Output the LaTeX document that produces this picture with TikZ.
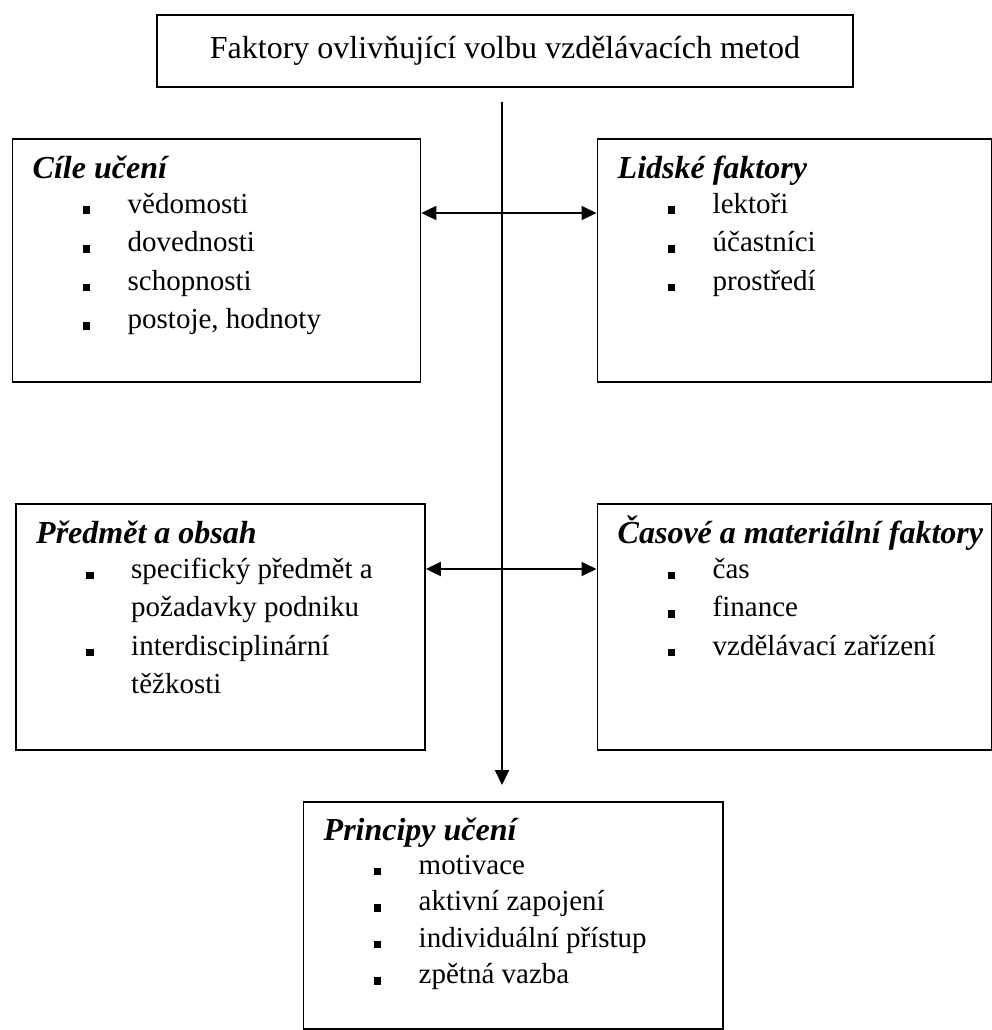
\documentclass[tikz,border=0pt]{standalone}
\usepackage{fontspec}
\setmainfont{Liberation Serif}
\usetikzlibrary{arrows.meta}
\newcommand\bod[1]{\makebox[95pt][l]{\hspace*{50pt}\rule[-1pt]{7.5pt}{7.5pt}}#1}
\newcommand\dal[1]{\hspace*{95pt}#1}
\newcommand\titul[1]{{\fontsize{32pt}{38.5pt}\selectfont\bfseries\itshape #1}}
\newcommand\seznam[1]{\begin{tabular}[t]{@{}l@{}}#1\end{tabular}}
\tikzset{
    ramec/.style={ % rámeček jednoho faktoru
        draw,
        line width=1.9pt,
        anchor=north west,
        inner sep=0pt
    },
    obsah/.style={ % nadpis a odrážky uvnitř rámečku
        anchor=base west,
        inner sep=0pt,
        font=\fontsize{29pt}{38.5pt}\selectfont
    },
    spoj/.style={ % jednosměrná šipka
        line width=1.9pt,
        -{Triangle[length=15pt,width=14pt]}
    },
    obousmer/.style={ % oboustranná šipka
        spoj,
        {Triangle[length=15pt,width=14pt]}-{Triangle[length=15pt,width=14pt]}
    }
}

\begin{document}
\begin{tikzpicture}[x=1pt,y=-1pt]
        \useasboundingbox (0,0) rectangle (992,1030);

        \node [ramec, minimum width=696pt, minimum height=72pt,
               font=\fontsize{32pt}{38.5pt}\selectfont] (faktory) at (156,14)
              {Faktory ovlivňující volbu vzdělávacích metod};

        \node [ramec, minimum width=408pt, minimum height=243pt] (cile) at (11.5,138) {};
        \node [ramec, minimum width=394.5pt, minimum height=243pt] (lidske) at (596.5,138) {};
        \node [ramec, minimum width=409pt, minimum height=246pt] (predmet) at (15,503) {};
        \node [ramec, minimum width=394.5pt, minimum height=246pt] (casove) at (596.5,503) {};
        \node [ramec, minimum width=419.5pt, minimum height=227pt] (principy) at (302.5,801) {};

        \node [obsah] (cileText) at ([shift={(21pt,-40pt)}]cile.north west)
              {\seznam{\titul{Cíle učení}\\[-3.5pt]
               \bod{vědomosti}\\ \bod{dovednosti}\\ \bod{schopnosti}\\ \bod{postoje, hodnoty}}};
        \node [obsah] (lidskeText) at ([shift={(21pt,-40pt)}]lidske.north west)
              {\seznam{\titul{Lidské faktory}\\[-3.5pt]
               \bod{lektoři}\\ \bod{účastníci}\\ \bod{prostředí}}};
        \node [obsah] (predmetText) at ([shift={(21pt,-40pt)}]predmet.north west)
              {\seznam{\titul{Předmět a obsah}\\[-3.5pt]
               \bod{specifický předmět a}\\ \dal{požadavky podniku}\\
               \bod{interdisciplinární}\\ \dal{těžkosti}}};
        \node [obsah] (casoveText) at ([shift={(21pt,-40pt)}]casove.north west)
              {\seznam{\titul{Časové a materiální faktory}\\[-3.5pt]
               \bod{čas}\\ \bod{finance}\\ \bod{vzdělávací zařízení}}};
        \node [obsah] (principyText) at ([shift={(21pt,-39pt)}]principy.north west)
              {\seznam{\titul{Principy učení}\\[-4.5pt]
               \bod{motivace}\\[-2pt] \bod{aktivní zapojení}\\[-2pt] \bod{individuální přístup}\\[-2pt] \bod{zpětná vazba}}};

        \coordinate (osa) at (502,102);
        \draw[spoj, shorten >=16pt] (osa) -- (osa |- principy.north);
        \draw[obousmer] ([yshift=-75pt]cile.north east) -- ([yshift=-75pt]lidske.north west);
        \draw[obousmer] ([yshift=-66pt]predmet.north east) -- ([yshift=-66pt]casove.north west);

\end{tikzpicture}
\end{document}
